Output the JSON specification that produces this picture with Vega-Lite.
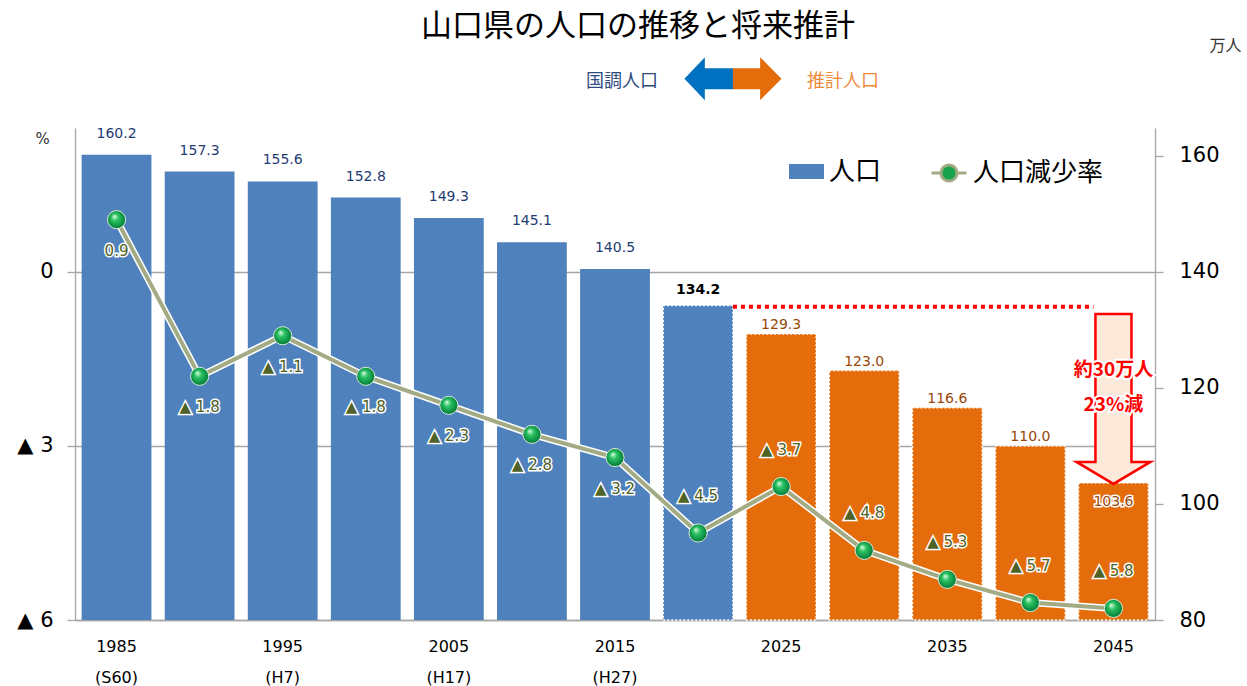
{
  "$schema": "https://vega.github.io/schema/vega-lite/v6.json",
  "width": 1080,
  "height": 492,
  "autosize": {"type": "none"},
  "padding": {"left": 75, "top": 128, "right": 92, "bottom": 66},
  "background": "white",
  "title": {"text": "山口県の人口の推移と将来推計", "font": "Noto Sans CJK JP", "fontSize": 31, "fontWeight": "normal", "color": "#000000", "anchor": "middle", "frame": "group", "dx": 23, "offset": -6},
  "data": {"values": [
    {"year": 1985, "pop": 160.2, "rate": 0.9, "series": "人口"},
    {"year": 1990, "pop": 157.3, "rate": -1.8, "series": "人口"},
    {"year": 1995, "pop": 155.6, "rate": -1.1, "series": "人口"},
    {"year": 2000, "pop": 152.8, "rate": -1.8, "series": "人口"},
    {"year": 2005, "pop": 149.3, "rate": -2.3, "series": "人口"},
    {"year": 2010, "pop": 145.1, "rate": -2.8, "series": "人口"},
    {"year": 2015, "pop": 140.5, "rate": -3.2, "series": "人口"},
    {"year": 2020, "pop": 134.2, "rate": -4.5, "series": "人口"},
    {"year": 2025, "pop": 129.3, "rate": -3.7, "series": "推計"},
    {"year": 2030, "pop": 123.0, "rate": -4.8, "series": "推計"},
    {"year": 2035, "pop": 116.6, "rate": -5.3, "series": "推計"},
    {"year": 2040, "pop": 110.0, "rate": -5.7, "series": "推計"},
    {"year": 2045, "pop": 103.6, "rate": -5.8, "series": "推計"}
  ]},
  "encoding": {
    "x": {
      "field": "year", "type": "ordinal",
      "scale": {"paddingInner": 0.16, "paddingOuter": 0.08},
      "axis": {
        "title": null, "ticks": false, "domainColor": "#a6a6a6", "domainWidth": 1.3,
        "labelAngle": 0, "labelOverlap": false, "labelFont": "DejaVu Sans", "labelFontSize": 16, "labelColor": "#000000",
        "labelPadding": 18, "labelLineHeight": 31,
        "labelExpr": "datum.value == 1985 ? ['1985','(S60)'] : datum.value == 1995 ? ['1995','(H7)'] : datum.value == 2005 ? ['2005','(H17)'] : datum.value == 2015 ? ['2015','(H27)'] : (datum.value == 2025 || datum.value == 2035 || datum.value == 2045) ? '' + datum.value : ''"
      }
    }
  },
  "layer": [
    {
      "layer": [
        {
          "mark": {"type": "bar", "stroke": "#ffffff", "strokeDash": [2, 2], "strokeWidth": 1.5},
          "encoding": {
            "y": {"field": "pop", "type": "quantitative", "scale": {"domain": [80, 164.8], "nice": false, "zero": false},
              "axis": {"orient": "right", "values": [80, 100, 120, 140, 160], "grid": false, "domainColor": "#a6a6a6", "domainWidth": 1.3, "tickColor": "#a6a6a6", "tickSize": 8, "tickWidth": 1.3,
                "labelFont": "DejaVu Sans", "labelFontSize": 21, "labelColor": "#000000", "labelPadding": 16,
                "title": "万人", "titleAngle": 0, "titleX": 70, "titleY": -83, "titleFont": "Noto Sans CJK JP", "titleFontSize": 16, "titleFontWeight": "normal", "titleColor": "#333333", "titleAlign": "center", "titleBaseline": "middle"}},
            "y2": {"datum": 80},
            "color": {"field": "series", "type": "nominal",
              "scale": {"domain": ["人口", "推計"], "range": ["#4f81bd", "#e46c0a"]},
              "legend": {"values": ["人口"], "title": null, "orient": "none", "direction": "horizontal", "legendX": 714, "legendY": 26, "padding": 0,
                "symbolType": "M-1,-0.43L1,-0.43L1,0.43L-1,0.43Z", "symbolSize": 1225, "symbolStrokeWidth": 0,
                "labelFont": "Noto Sans CJK JP", "labelFontSize": 26, "labelColor": "#000000", "labelOffset": 5}},
            "strokeOpacity": {"condition": {"test": "datum.year >= 2020", "value": 1}, "value": 0}
          }
        },
        {
          "transform": [{"filter": "datum.year <= 2015"}],
          "mark": {"type": "text", "font": "DejaVu Sans", "fontSize": 14, "color": "#1f3b73", "baseline": "middle", "dy": -21},
          "encoding": {"y": {"field": "pop", "type": "quantitative"}, "text": {"field": "pop", "type": "quantitative", "format": ".1f"}}
        },
        {
          "transform": [{"filter": "datum.year == 2020"}],
          "mark": {"type": "text", "font": "DejaVu Sans", "fontSize": 14, "fontWeight": "bold", "color": "#000000", "baseline": "middle", "dy": -16},
          "encoding": {"y": {"field": "pop", "type": "quantitative"}, "text": {"field": "pop", "type": "quantitative", "format": ".1f"}}
        },
        {
          "transform": [{"filter": "datum.year >= 2025 && datum.year <= 2040"}],
          "mark": {"type": "text", "font": "DejaVu Sans", "fontSize": 14, "color": "#ffffff", "stroke": "#ffffff", "strokeWidth": 3, "baseline": "middle", "dy": -9},
          "encoding": {"y": {"field": "pop", "type": "quantitative"}, "text": {"field": "pop", "type": "quantitative", "format": ".1f"}}
        },
        {
          "transform": [{"filter": "datum.year >= 2025 && datum.year <= 2040"}],
          "mark": {"type": "text", "font": "DejaVu Sans", "fontSize": 14, "color": "#984807", "baseline": "middle", "dy": -9},
          "encoding": {"y": {"field": "pop", "type": "quantitative"}, "text": {"field": "pop", "type": "quantitative", "format": ".1f"}}
        },
        {
          "transform": [{"filter": "datum.year == 2045"}],
          "mark": {"type": "text", "font": "DejaVu Sans", "fontSize": 14, "color": "#ffffff", "stroke": "#ffffff", "strokeWidth": 3, "baseline": "middle", "dy": 19},
          "encoding": {"y": {"field": "pop", "type": "quantitative"}, "text": {"field": "pop", "type": "quantitative", "format": ".1f"}}
        },
        {
          "transform": [{"filter": "datum.year == 2045"}],
          "mark": {"type": "text", "font": "DejaVu Sans", "fontSize": 14, "color": "#984807", "baseline": "middle", "dy": 19},
          "encoding": {"y": {"field": "pop", "type": "quantitative"}, "text": {"field": "pop", "type": "quantitative", "format": ".1f"}}
        },
        {
          "data": {"values": [{}]},
          "mark": {"type": "rule", "color": "#ff0000", "strokeWidth": 4, "strokeDash": [4, 4], "x2Offset": -20},
          "encoding": {"x": {"datum": 2020, "type": "ordinal", "bandPosition": 1}, "x2": {"datum": 2045}, "y": {"datum": 134.0, "type": "quantitative"}}
        },
        {
          "data": {"values": [{}]},
          "mark": {"type": "point", "filled": true, "shape": "M-0.212,-1L0.212,-1L0.212,0.741L0.435,0.741L0,1L-0.435,0.741L-0.212,0.741Z", "size": 28900, "fill": "#fde9d9", "stroke": "#ff0000", "strokeWidth": 2.5, "opacity": 1},
          "encoding": {"x": {"datum": 2045, "type": "ordinal"}, "y": {"datum": 118.1, "type": "quantitative"}}
        },
        {
          "data": {"values": [{"t": "約30万人", "v": 123.1}, {"t": "23%減", "v": 117.0}]},
          "mark": {"type": "text", "font": "Noto Sans CJK JP", "fontSize": 19, "fontWeight": "bold", "color": "#ffffff", "stroke": "#ffffff", "strokeWidth": 4, "baseline": "middle"},
          "encoding": {"x": {"datum": 2045, "type": "ordinal"}, "y": {"field": "v", "type": "quantitative"}, "text": {"field": "t"}}
        },
        {
          "data": {"values": [{"t": "約30万人", "v": 123.1}, {"t": "23%減", "v": 117.0}]},
          "mark": {"type": "text", "font": "Noto Sans CJK JP", "fontSize": 19, "fontWeight": "bold", "color": "#ff0000", "baseline": "middle"},
          "encoding": {"x": {"datum": 2045, "type": "ordinal"}, "y": {"field": "v", "type": "quantitative"}, "text": {"field": "t"}}
        },
        {
          "data": {"values": [{}]},
          "mark": {"type": "point", "filled": true, "shape": "M0,-0.216L-0.58,-0.216L-0.58,-0.443L-1,0L-0.58,0.443L-0.58,0.216L0,0.216Z", "size": 9409, "fill": "#0070c0", "strokeWidth": 0, "opacity": 1},
          "encoding": {"x": {"datum": 2020, "type": "ordinal", "bandPosition": 1}, "y": {"datum": 173.3, "type": "quantitative"}}
        },
        {
          "data": {"values": [{}]},
          "mark": {"type": "point", "filled": true, "shape": "M0,-0.216L0.56,-0.216L0.56,-0.443L1,0L0.56,0.443L0.56,0.216L0,0.216Z", "size": 9409, "fill": "#e46c0a", "strokeWidth": 0, "opacity": 1},
          "encoding": {"x": {"datum": 2020, "type": "ordinal", "bandPosition": 1}, "y": {"datum": 173.3, "type": "quantitative"}}
        },
        {
          "data": {"values": [{}]},
          "mark": {"type": "text", "text": "国調人口", "font": "Noto Sans CJK JP", "fontSize": 18, "color": "#2f4a7f", "baseline": "middle", "dx": -111},
          "encoding": {"x": {"datum": 2020, "type": "ordinal", "bandPosition": 1}, "y": {"datum": 172.7, "type": "quantitative"}}
        },
        {
          "data": {"values": [{}]},
          "mark": {"type": "text", "text": "推計人口", "font": "Noto Sans CJK JP", "fontSize": 18, "color": "#ee8a3a", "baseline": "middle", "dx": 110},
          "encoding": {"x": {"datum": 2020, "type": "ordinal", "bandPosition": 1}, "y": {"datum": 172.7, "type": "quantitative"}}
        }
      ]
    },
    {
      "transform": [{"calculate": "datum.rate < 0 ? '▲ ' + format(-datum.rate, '.1f') : format(datum.rate, '.1f')", "as": "label"}],
      "encoding": {
        "y": {"field": "rate", "type": "quantitative", "scale": {"domain": [-6, 2.48], "nice": false, "zero": false},
          "axis": {"orient": "left", "values": [0, -3, -6], "labelExpr": "datum.value == 0 ? '0' : '▲ ' + abs(datum.value)",
            "grid": true, "gridColor": "#a6a6a6", "gridWidth": 1.3, "domainColor": "#a6a6a6", "domainWidth": 1.3, "tickColor": "#a6a6a6", "tickSize": 8, "tickWidth": 1.3,
            "labelFont": "DejaVu Sans", "labelFontSize": 21, "labelColor": "#000000", "labelPadding": 14,
            "title": "%", "titleAngle": 0, "titleX": -33, "titleY": 10, "titleFont": "DejaVu Sans", "titleFontSize": 15, "titleFontWeight": "normal", "titleColor": "#333333", "titleAlign": "center", "titleBaseline": "middle"}}
      },
      "layer": [
        {"mark": {"type": "line", "color": "#ffffff", "strokeWidth": 7}},
        {"mark": {"type": "line", "strokeWidth": 4},
          "encoding": {"stroke": {"datum": "人口減少率", "type": "nominal", "scale": {"domain": ["人口減少率"], "range": ["#a3ab85"]},
            "legend": {"title": null, "orient": "none", "direction": "horizontal", "legendX": 855, "legendY": 26, "padding": 0,
              "symbolType": "M-1,0L-0.46,0M0.46,0L1,0M-0.46,0A0.46,0.46 0 1 1 0.46,0A0.46,0.46 0 1 1 -0.46,0Z", "symbolSize": 1225,
              "symbolStrokeWidth": 3, "symbolFillColor": "#16a34a", "symbolStrokeColor": "#a3ab85",
              "labelFont": "Noto Sans CJK JP", "labelFontSize": 26, "labelColor": "#000000", "labelOffset": 5}}}},
        {"mark": {"type": "point", "filled": true, "shape": "circle", "size": 330, "opacity": 1, "stroke": "#d8eadb", "strokeWidth": 1,
          "fill": {"gradient": "radial", "x1": 0.38, "y1": 0.32, "r1": 0.02, "x2": 0.5, "y2": 0.5, "r2": 0.6,
            "stops": [{"offset": 0, "color": "#d5f7dc"}, {"offset": 0.3, "color": "#2cc464"}, {"offset": 0.75, "color": "#0a8a3f"}, {"offset": 1, "color": "#06602c"}]}}},
        {
          "transform": [{"filter": "datum.year <= 2015"}],
          "layer": [
            {"mark": {"type": "text", "font": "DejaVu Sans", "fontSize": 15, "color": "#ffffff", "stroke": "#ffffff", "strokeWidth": 3, "baseline": "middle", "dy": 31}, "encoding": {"text": {"field": "label"}}},
            {"mark": {"type": "text", "font": "DejaVu Sans", "fontSize": 15, "color": "#4f6228", "baseline": "middle", "dy": 31}, "encoding": {"text": {"field": "label"}}}
          ]
        },
        {
          "transform": [{"filter": "datum.year >= 2020"}],
          "layer": [
            {"mark": {"type": "text", "font": "DejaVu Sans", "fontSize": 15, "color": "#ffffff", "stroke": "#ffffff", "strokeWidth": 3, "baseline": "middle", "dy": -37}, "encoding": {"text": {"field": "label"}}},
            {"mark": {"type": "text", "font": "DejaVu Sans", "fontSize": 15, "color": "#4f6228", "baseline": "middle", "dy": -37}, "encoding": {"text": {"field": "label"}}}
          ]
        }
      ]
    }
  ],
  "resolve": {"scale": {"y": "independent"}},
  "config": {"view": {"stroke": null}}
}
